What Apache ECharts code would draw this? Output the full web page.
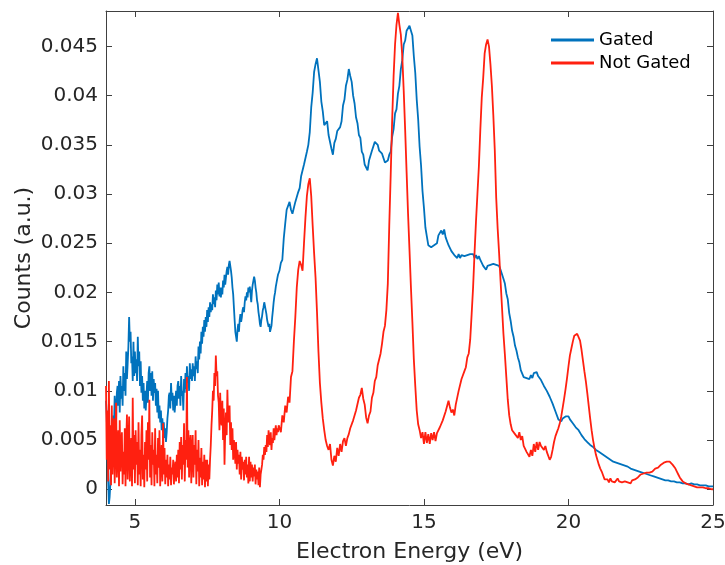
<!DOCTYPE html>
<html>
<head>
<meta charset="utf-8">
<script src="https://cdn.jsdelivr.net/npm/echarts@6/dist/echarts.min.js"></script>
<style>
  html, body { margin: 0; padding: 0; background: #fff; }
  #chart { width: 725px; height: 565px; }
</style>
</head>
<body>
<div id="chart"></div>
<script>
// Electron energy spectra. The noisy low-energy part (4 - 10 eV) is sampled
// every 0.025 eV, the rest (10 - 25 eV) every 0.05 eV.
const lowStart = 4.0, lowStep = 0.025;
const mainStart = 10.0, mainStep = 0.05;

// Gated spectrum, 4.000 - 9.975 eV (one row per 0.5 eV)
const gatedLow = [
  0.0090, 0.0075, 0.0040, 0.0010, -0.0015, -0.0008, 0.0005, 0.0030, 0.0040, 0.0065, 0.0075, 0.0060, 0.0095, 0.0080, 0.0070, 0.0098, 0.0105, 0.0085, 0.0110, 0.0078,
  0.0115, 0.0092, 0.0105, 0.0085, 0.0125, 0.0100, 0.0118, 0.0095, 0.0140, 0.0112, 0.0128, 0.0145, 0.0175, 0.0150, 0.0160, 0.0128, 0.0135, 0.0110, 0.0150, 0.0115,
  0.0140, 0.0118, 0.0132, 0.0110, 0.0155, 0.0125, 0.0140, 0.0105, 0.0130, 0.0098, 0.0115, 0.0090, 0.0108, 0.0082, 0.0100, 0.0080, 0.0095, 0.0110, 0.0088, 0.0118,
  0.0125, 0.0100, 0.0118, 0.0095, 0.0120, 0.0090, 0.0112, 0.0098, 0.0108, 0.0085, 0.0102, 0.0078, 0.0100, 0.0072, 0.0085, 0.0068, 0.0080, 0.0060, 0.0072, 0.0058,
  0.0068, 0.0052, 0.0062, 0.0048, 0.0058, 0.0072, 0.0080, 0.0095, 0.0098, 0.0082, 0.0108, 0.0090, 0.0098, 0.0080, 0.0095, 0.0078, 0.0088, 0.0100, 0.0085, 0.0105,
  0.0110, 0.0092, 0.0105, 0.0085, 0.0115, 0.0095, 0.0100, 0.0080, 0.0112, 0.0098, 0.0118, 0.0102, 0.0125, 0.0108, 0.0115, 0.0100, 0.0128, 0.0112, 0.0122, 0.0110,
  0.0128, 0.0115, 0.0125, 0.0110, 0.0135, 0.0122, 0.0130, 0.0118, 0.0145, 0.0132, 0.0150, 0.0138, 0.0160, 0.0148, 0.0165, 0.0155, 0.0172, 0.0160, 0.0175, 0.0165,
  0.0182, 0.0170, 0.0185, 0.0175, 0.0190, 0.0180, 0.0188, 0.0182, 0.0198, 0.0188, 0.0195, 0.0185, 0.0202, 0.0192, 0.0208, 0.0198, 0.0210, 0.0196, 0.0205, 0.0195,
  0.0205, 0.0198, 0.0212, 0.0205, 0.0218, 0.0208, 0.0215, 0.0222, 0.0226, 0.0218, 0.0228, 0.0232, 0.0230, 0.0222, 0.0215, 0.0205, 0.0198, 0.0185, 0.0172, 0.0160,
  0.0155, 0.0150, 0.0162, 0.0168, 0.0160, 0.0172, 0.0178, 0.0170, 0.0175, 0.0182, 0.0185, 0.0180, 0.0190, 0.0196, 0.0192, 0.0200, 0.0195, 0.0205, 0.0200, 0.0206,
  0.0198, 0.0190, 0.0202, 0.0208, 0.0210, 0.0216, 0.0212, 0.0205, 0.0200, 0.0192, 0.0188, 0.0180, 0.0175, 0.0168, 0.0165, 0.0172, 0.0176, 0.0182, 0.0185, 0.0190,
  0.0188, 0.0182, 0.0178, 0.0172, 0.0170, 0.0165, 0.0168, 0.0160, 0.0158, 0.0166, 0.0175, 0.0182, 0.0190, 0.0196, 0.0200, 0.0206, 0.0210, 0.0214, 0.0218, 0.0220
];

// Gated spectrum, 10.00 - 25.00 eV (one row per eV)
const gatedMain = [
  0.0222, 0.0230, 0.0233, 0.0255, 0.0270, 0.0284, 0.0282, 0.0292, 0.0284, 0.0280, 0.0278, 0.0292, 0.0294, 0.0302, 0.0306, 0.0318, 0.0320, 0.0330, 0.0332, 0.0343, // 10
  0.0350, 0.0363, 0.0388, 0.0403, 0.0424, 0.0432, 0.0438, 0.0426, 0.0414, 0.0394, 0.0384, 0.0370, 0.0370, 0.0374, 0.0360, 0.0362, 0.0346, 0.0340, 0.0352, 0.0356, // 11
  0.0364, 0.0366, 0.0368, 0.0374, 0.0390, 0.0396, 0.0410, 0.0416, 0.0427, 0.0420, 0.0414, 0.0400, 0.0392, 0.0378, 0.0372, 0.0360, 0.0357, 0.0343, 0.0340, 0.0330, // 12
  0.0329, 0.0324, 0.0334, 0.0336, 0.0344, 0.0346, 0.0353, 0.0352, 0.0350, 0.0344, 0.0344, 0.0341, 0.0342, 0.0332, 0.0332, 0.0334, 0.0340, 0.0343, 0.0358, 0.0366, // 13
  0.0382, 0.0386, 0.0402, 0.0410, 0.0427, 0.0436, 0.0452, 0.0456, 0.0466, 0.0467, 0.0471, 0.0466, 0.0461, 0.0440, 0.0423, 0.0396, 0.0376, 0.0348, 0.0329, 0.0303, // 14
  0.0286, 0.0266, 0.0257, 0.0248, 0.0247, 0.0246, 0.0247, 0.0248, 0.0250, 0.0250, 0.0258, 0.0256, 0.0263, 0.0259, 0.0264, 0.0256, 0.0256, 0.0248, 0.0249, 0.0242, // 15
  0.0243, 0.0238, 0.0239, 0.0235, 0.0239, 0.0235, 0.0238, 0.0237, 0.0237, 0.0236, 0.0238, 0.0238, 0.0239, 0.0239, 0.0239, 0.0235, 0.0238, 0.0234, 0.0237, 0.0233, // 16
  0.0231, 0.0227, 0.0227, 0.0223, 0.0227, 0.0226, 0.0228, 0.0228, 0.0229, 0.0229, 0.0228, 0.0227, 0.0227, 0.0223, 0.0221, 0.0214, 0.0209, 0.0199, 0.0193, 0.0179, // 17
  0.0171, 0.0161, 0.0155, 0.0146, 0.0141, 0.0134, 0.0129, 0.0121, 0.0119, 0.0114, 0.0114, 0.0113, 0.0113, 0.0112, 0.0116, 0.0113, 0.0118, 0.0118, 0.0119, 0.0115, // 18
  0.0115, 0.0111, 0.0111, 0.0105, 0.0105, 0.0100, 0.0099, 0.0094, 0.0093, 0.0087, 0.0085, 0.0079, 0.0078, 0.0071, 0.0070, 0.0069, 0.0072, 0.0071, 0.0074, 0.0073, // 19
  0.0074, 0.0071, 0.0071, 0.0067, 0.0068, 0.0063, 0.0064, 0.0060, 0.0060, 0.0055, 0.0055, 0.0051, 0.0051, 0.0048, 0.0048, 0.0045, 0.0046, 0.0043, 0.0044, 0.0040, // 20
  0.0040, 0.0038, 0.0039, 0.0036, 0.0037, 0.0034, 0.0035, 0.0032, 0.0033, 0.0030, 0.0031, 0.0028, 0.0029, 0.0027, 0.0028, 0.0026, 0.0027, 0.0025, 0.0026, 0.0024, // 21
  0.0025, 0.0023, 0.0024, 0.0021, 0.0022, 0.0020, 0.0021, 0.0019, 0.0020, 0.0018, 0.0019, 0.0017, 0.0018, 0.0016, 0.0017, 0.0015, 0.0016, 0.0014, 0.0015, 0.0013, // 22
  0.0014, 0.0012, 0.0013, 0.0011, 0.0012, 0.0010, 0.0011, 0.0009, 0.0010, 0.0009, 0.0010, 0.0008, 0.0009, 0.0008, 0.0009, 0.0007, 0.0008, 0.0007, 0.0008, 0.0006, // 23
  0.0007, 0.0006, 0.0007, 0.0005, 0.0006, 0.0006, 0.0007, 0.0005, 0.0006, 0.0005, 0.0006, 0.0004, 0.0005, 0.0004, 0.0005, 0.0004, 0.0004, 0.0003, 0.0004, 0.0003, // 24
  0.0003 // 25
];

// Not gated spectrum, 4.000 - 9.975 eV (one row per 0.5 eV)
const notGatedLow = [
  0.0105, 0.0030, 0.0080, 0.0008, 0.0110, 0.0020, 0.0065, 0.0004, 0.0085, 0.0015, 0.0050, 0.0072, 0.0006, 0.0045, 0.0088, 0.0012, 0.0035, 0.0060, 0.0003, 0.0070,
  0.0018, 0.0045, 0.0058, 0.0005, 0.0038, 0.0015, 0.0062, 0.0003, 0.0048, 0.0076, 0.0010, 0.0040, 0.0074, 0.0008, 0.0030, 0.0052, 0.0003, 0.0093, 0.0020, 0.0055,
  0.0006, 0.0060, 0.0025, 0.0048, 0.0004, 0.0068, 0.0015, 0.0040, 0.0003, 0.0055, 0.0075, 0.0010, 0.0035, 0.0002, 0.0048, 0.0020, 0.0060, 0.0008, 0.0068, 0.0030,
  0.0091, 0.0012, 0.0045, 0.0004, 0.0058, 0.0025, 0.0040, 0.0003, 0.0062, 0.0015, 0.0035, 0.0006, 0.0052, 0.0022, 0.0060, 0.0003, 0.0030, 0.0045, 0.0008, 0.0067,
  0.0015, 0.0042, 0.0005, 0.0030, 0.0012, 0.0035, 0.0003, 0.0025, 0.0010, 0.0033, 0.0004, 0.0022, 0.0015, 0.0030, 0.0005, 0.0020, 0.0028, 0.0008, 0.0035, 0.0012,
  0.0040, 0.0006, 0.0048, 0.0020, 0.0053, 0.0010, 0.0045, 0.0025, 0.0067, 0.0008, 0.0050, 0.0030, 0.0114, 0.0022, 0.0060, 0.0012, 0.0045, 0.0055, 0.0006, 0.0040,
  0.0055, 0.0012, 0.0045, 0.0025, 0.0060, 0.0005, 0.0040, 0.0018, 0.0050, 0.0003, 0.0032, 0.0012, 0.0042, 0.0004, 0.0028, 0.0010, 0.0035, 0.0002, 0.0030, 0.0008,
  0.0030, 0.0003, 0.0025, 0.0010, 0.0030, 0.0045, 0.0065, 0.0080, 0.0100, 0.0090, 0.0118, 0.0105, 0.0136, 0.0115, 0.0120, 0.0095, 0.0088, 0.0060, 0.0098, 0.0070,
  0.0065, 0.0090, 0.0050, 0.0082, 0.0025, 0.0060, 0.0078, 0.0055, 0.0101, 0.0068, 0.0072, 0.0085, 0.0045, 0.0068, 0.0040, 0.0062, 0.0030, 0.0050, 0.0042, 0.0026,
  0.0048, 0.0020, 0.0040, 0.0026, 0.0035, 0.0015, 0.0038, 0.0010, 0.0033, 0.0020, 0.0028, 0.0009, 0.0030, 0.0015, 0.0033, 0.0012, 0.0025, 0.0006, 0.0033, 0.0008,
  0.0028, 0.0012, 0.0025, 0.0008, 0.0022, 0.0013, 0.0025, 0.0005, 0.0020, 0.0010, 0.0018, 0.0004, 0.0022, 0.0002, 0.0015, 0.0020, 0.0025, 0.0035, 0.0030, 0.0043,
  0.0035, 0.0045, 0.0038, 0.0055, 0.0043, 0.0060, 0.0048, 0.0045, 0.0058, 0.0040, 0.0052, 0.0047, 0.0062, 0.0050, 0.0058, 0.0065, 0.0055, 0.0062, 0.0058, 0.0065
];

// Not gated spectrum, 10.00 - 25.00 eV (one row per eV)
const notGatedMain = [
  0.0067, 0.0058, 0.0075, 0.0068, 0.0085, 0.0078, 0.0094, 0.0088, 0.0114, 0.0120, 0.0150, 0.0175, 0.0205, 0.0223, 0.0232, 0.0228, 0.0222, 0.0250, 0.0276, 0.0298, // 10
  0.0310, 0.0316, 0.0298, 0.0268, 0.0240, 0.0215, 0.0180, 0.0140, 0.0108, 0.0088, 0.0072, 0.0060, 0.0050, 0.0044, 0.0040, 0.0046, 0.0030, 0.0024, 0.0034, 0.0028, // 11
  0.0042, 0.0034, 0.0046, 0.0038, 0.0049, 0.0052, 0.0044, 0.0052, 0.0056, 0.0062, 0.0061, 0.0070, 0.0072, 0.0080, 0.0082, 0.0093, 0.0096, 0.0103, 0.0092, 0.0086, // 12
  0.0073, 0.0067, 0.0075, 0.0079, 0.0093, 0.0098, 0.0110, 0.0114, 0.0126, 0.0126, 0.0138, 0.0148, 0.0160, 0.0166, 0.0182, 0.0209, 0.0268, 0.0320, 0.0375, 0.0420, // 13
  0.0452, 0.0472, 0.0484, 0.0472, 0.0462, 0.0440, 0.0405, 0.0365, 0.0322, 0.0280, 0.0243, 0.0205, 0.0170, 0.0132, 0.0105, 0.0080, 0.0066, 0.0060, 0.0052, 0.0058, // 14
  0.0046, 0.0058, 0.0047, 0.0056, 0.0046, 0.0057, 0.0050, 0.0058, 0.0049, 0.0057, 0.0058, 0.0063, 0.0061, 0.0070, 0.0070, 0.0079, 0.0080, 0.0090, 0.0083, 0.0078, // 15
  0.0081, 0.0075, 0.0086, 0.0088, 0.0100, 0.0102, 0.0112, 0.0112, 0.0120, 0.0124, 0.0134, 0.0138, 0.0152, 0.0178, 0.0205, 0.0240, 0.0272, 0.0300, 0.0328, 0.0365, // 16
  0.0398, 0.0418, 0.0443, 0.0452, 0.0457, 0.0450, 0.0432, 0.0410, 0.0380, 0.0345, 0.0296, 0.0265, 0.0240, 0.0212, 0.0185, 0.0158, 0.0137, 0.0114, 0.0091, 0.0075, // 17
  0.0066, 0.0060, 0.0060, 0.0056, 0.0057, 0.0052, 0.0058, 0.0050, 0.0054, 0.0044, 0.0046, 0.0038, 0.0040, 0.0033, 0.0040, 0.0034, 0.0046, 0.0038, 0.0048, 0.0040, // 18
  0.0048, 0.0044, 0.0046, 0.0040, 0.0044, 0.0038, 0.0036, 0.0030, 0.0033, 0.0040, 0.0048, 0.0054, 0.0058, 0.0062, 0.0067, 0.0074, 0.0083, 0.0092, 0.0102, 0.0113, // 19
  0.0125, 0.0136, 0.0143, 0.0150, 0.0156, 0.0158, 0.0158, 0.0156, 0.0151, 0.0142, 0.0131, 0.0120, 0.0110, 0.0098, 0.0085, 0.0072, 0.0060, 0.0050, 0.0042, 0.0035, // 20
  0.0030, 0.0025, 0.0021, 0.0018, 0.0014, 0.0010, 0.0008, 0.0010, 0.0007, 0.0011, 0.0008, 0.0010, 0.0007, 0.0009, 0.0011, 0.0008, 0.0010, 0.0007, 0.0009, 0.0008, // 21
  0.0010, 0.0007, 0.0008, 0.0006, 0.0009, 0.0008, 0.0010, 0.0009, 0.0012, 0.0013, 0.0015, 0.0014, 0.0016, 0.0015, 0.0017, 0.0015, 0.0017, 0.0018, 0.0018, 0.0020, // 22
  0.0021, 0.0022, 0.0022, 0.0024, 0.0025, 0.0025, 0.0027, 0.0026, 0.0028, 0.0027, 0.0028, 0.0026, 0.0025, 0.0024, 0.0021, 0.0018, 0.0015, 0.0012, 0.0010, 0.0008, // 23
  0.0007, 0.0006, 0.0005, 0.0005, 0.0004, 0.0004, 0.0003, 0.0003, 0.0002, 0.0002, 0.0003, 0.0002, 0.0001, 0.0002, 0.0001, 0.0001, 0.0000, 0.0001, 0.0000, 0.0000, // 24
  0.0000 // 25
];

const seriesNames = ['Gated', 'Not Gated'];
const xTicks = [5, 10, 15, 20, 25];
const yTicks = [0, 0.005, 0.01, 0.015, 0.02, 0.025, 0.03, 0.035, 0.04, 0.045];
const yTickLabels = ['0', '0.005', '0.01', '0.015', '0.02', '0.025', '0.03', '0.035', '0.04', '0.045'];

// Pair each sampled value with its energy bin.
function toPoints(values, start, step) {
  return values.map((v, i) => [Math.round((start + i * step) * 1000) / 1000, v]);
}
function spectrum(low, main) {
  return toPoints(low, lowStart, lowStep).concat(toPoints(main, mainStart, mainStep));
}

const FONT = 'DejaVu Sans';
const AXIS_COLOR = '#404040';
const TEXT_COLOR = '#262626';

const boxAxis = {
  axisLine: { show: true, onZero: false, lineStyle: { color: AXIS_COLOR, width: 1 } },
  axisTick: { show: true, inside: true, length: 6, lineStyle: { color: AXIS_COLOR, width: 1 } },
  splitLine: { show: false }
};

const chart = echarts.init(document.getElementById('chart'), null, { renderer: 'canvas' });
chart.setOption({
  animation: false,
  backgroundColor: '#ffffff',
  grid: { left: 106, right: 12, top: 11, bottom: 60, containLabel: false, outerBoundsMode: 'none' },
  legend: {
    data: seriesNames,
    orient: 'vertical',
    left: 546,
    top: 26,
    itemWidth: 43,
    itemHeight: 3,
    itemGap: 5,
    icon: 'rect',
    textStyle: { fontFamily: FONT, fontSize: 18, color: '#000', lineHeight: 18 }
  },
  xAxis: [
    Object.assign({}, boxAxis, {
      type: 'value', position: 'bottom', min: 4, max: 25,
      name: 'Electron Energy (eV)', nameLocation: 'middle', nameGap: 36, nameMoveOverlap: false,
      nameTextStyle: { fontFamily: FONT, fontSize: 22, color: TEXT_COLOR },
      axisTick: Object.assign({}, boxAxis.axisTick, { customValues: xTicks }),
      axisLabel: { customValues: xTicks, margin: 8, fontFamily: FONT, fontSize: 20, color: TEXT_COLOR }
    }),
    Object.assign({}, boxAxis, {
      type: 'value', position: 'top', min: 4, max: 25,
      axisTick: Object.assign({}, boxAxis.axisTick, { customValues: xTicks }),
      axisLabel: { show: false, customValues: xTicks }
    })
  ],
  yAxis: [
    Object.assign({}, boxAxis, {
      type: 'value', position: 'left', min: -0.0016, max: 0.0486,
      name: 'Counts (a.u.)', nameLocation: 'middle', nameGap: 71, nameRotate: 90, nameMoveOverlap: false,
      nameTextStyle: { fontFamily: FONT, fontSize: 22, color: TEXT_COLOR },
      axisTick: Object.assign({}, boxAxis.axisTick, { customValues: yTicks }),
      axisLabel: {
        customValues: yTicks, margin: 8, fontFamily: FONT, fontSize: 20, color: TEXT_COLOR,
        formatter: v => {
          const k = yTicks.findIndex(t => Math.abs(t - v) < 1e-9);
          return k >= 0 ? yTickLabels[k] : '';
        }
      }
    }),
    Object.assign({}, boxAxis, {
      type: 'value', position: 'right', min: -0.0016, max: 0.0486,
      axisTick: Object.assign({}, boxAxis.axisTick, { customValues: yTicks }),
      axisLabel: { show: false, customValues: yTicks }
    })
  ],
  series: [
    {
      name: seriesNames[0], type: 'line', xAxisIndex: 0, yAxisIndex: 0,
      data: spectrum(gatedLow, gatedMain), showSymbol: false, symbol: 'none', sampling: null,
      lineStyle: { color: '#0072bd', width: 1.8 }, itemStyle: { color: '#0072bd' }
    },
    {
      name: seriesNames[1], type: 'line', xAxisIndex: 0, yAxisIndex: 0,
      data: spectrum(notGatedLow, notGatedMain), showSymbol: false, symbol: 'none', sampling: null,
      lineStyle: { color: '#ff2010', width: 1.8 }, itemStyle: { color: '#ff2010' }
    }
  ]
});
</script>
</body>
</html>
